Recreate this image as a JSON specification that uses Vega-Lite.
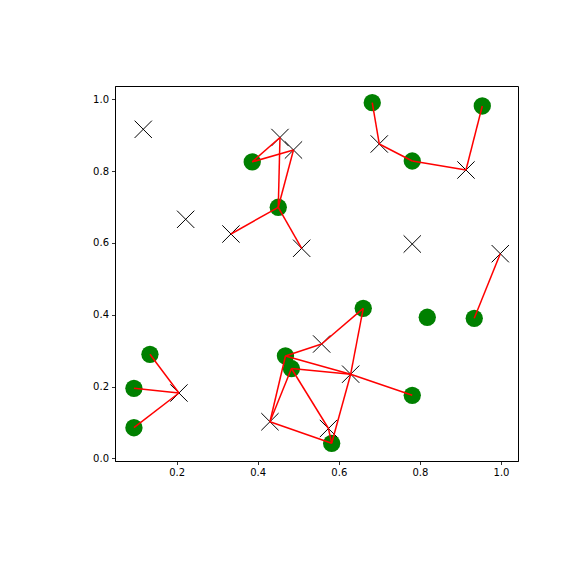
{
  "$schema": "https://vega.github.io/schema/vega-lite/v6.json",
  "width": 403,
  "height": 375,
  "autosize": {"type": "none"},
  "padding": {"left": 115, "top": 86, "right": 58, "bottom": 115},
  "background": "white",
  "config": {
    "view": {"stroke": "black", "strokeWidth": 1},
    "axis": {
      "grid": false,
      "domainColor": "black",
      "domainWidth": 1,
      "tickColor": "black",
      "tickSize": 3.5,
      "tickWidth": 0.8,
      "labelFont": "DejaVu Sans",
      "labelFontSize": 10,
      "labelColor": "black",
      "labelPadding": 3,
      "title": null
    }
  },
  "datasets": {
    "circles": [
      {"x": 0.3865, "y": 0.8256},
      {"x": 0.4507, "y": 0.6992},
      {"x": 0.6825, "y": 0.9905},
      {"x": 0.7812, "y": 0.8281},
      {"x": 0.9539, "y": 0.9813},
      {"x": 0.6603, "y": 0.4178},
      {"x": 0.8182, "y": 0.3928},
      {"x": 0.9341, "y": 0.3900},
      {"x": 0.1342, "y": 0.2897},
      {"x": 0.0947, "y": 0.1950},
      {"x": 0.0947, "y": 0.0852},
      {"x": 0.4684, "y": 0.2850},
      {"x": 0.4832, "y": 0.2501},
      {"x": 0.5824, "y": 0.0418},
      {"x": 0.7812, "y": 0.1755}
    ],
    "crosses": [
      {"x": 0.1177, "y": 0.9164},
      {"x": 0.4549, "y": 0.8936},
      {"x": 0.4882, "y": 0.8588},
      {"x": 0.2223, "y": 0.6657},
      {"x": 0.3340, "y": 0.6248},
      {"x": 0.5084, "y": 0.5850},
      {"x": 0.6998, "y": 0.8755},
      {"x": 0.9137, "y": 0.8031},
      {"x": 0.7812, "y": 0.5969},
      {"x": 0.9983, "y": 0.5699},
      {"x": 0.2057, "y": 0.1819},
      {"x": 0.5577, "y": 0.3184},
      {"x": 0.4302, "y": 0.1019},
      {"x": 0.5745, "y": 0.0830},
      {"x": 0.6293, "y": 0.2343}
    ],
    "links": [
      {"x": 0.3865, "y": 0.8256, "x2": 0.4549, "y2": 0.8936},
      {"x": 0.3865, "y": 0.8256, "x2": 0.4882, "y2": 0.8588},
      {"x": 0.4507, "y": 0.6992, "x2": 0.4549, "y2": 0.8936},
      {"x": 0.4507, "y": 0.6992, "x2": 0.4882, "y2": 0.8588},
      {"x": 0.4507, "y": 0.6992, "x2": 0.3340, "y2": 0.6248},
      {"x": 0.4507, "y": 0.6992, "x2": 0.5084, "y2": 0.5850},
      {"x": 0.6825, "y": 0.9905, "x2": 0.6998, "y2": 0.8755},
      {"x": 0.7812, "y": 0.8281, "x2": 0.6998, "y2": 0.8755},
      {"x": 0.7812, "y": 0.8281, "x2": 0.9137, "y2": 0.8031},
      {"x": 0.9539, "y": 0.9813, "x2": 0.9137, "y2": 0.8031},
      {"x": 0.9341, "y": 0.3900, "x2": 0.9983, "y2": 0.5699},
      {"x": 0.1342, "y": 0.2897, "x2": 0.2057, "y2": 0.1819},
      {"x": 0.0947, "y": 0.1950, "x2": 0.2057, "y2": 0.1819},
      {"x": 0.0947, "y": 0.0852, "x2": 0.2057, "y2": 0.1819},
      {"x": 0.4684, "y": 0.2850, "x2": 0.5577, "y2": 0.3184},
      {"x": 0.6603, "y": 0.4178, "x2": 0.5577, "y2": 0.3184},
      {"x": 0.4684, "y": 0.2850, "x2": 0.6293, "y2": 0.2343},
      {"x": 0.4832, "y": 0.2501, "x2": 0.6293, "y2": 0.2343},
      {"x": 0.4684, "y": 0.2850, "x2": 0.4302, "y2": 0.1019},
      {"x": 0.4832, "y": 0.2501, "x2": 0.4302, "y2": 0.1019},
      {"x": 0.4832, "y": 0.2501, "x2": 0.5745, "y2": 0.0830},
      {"x": 0.5824, "y": 0.0418, "x2": 0.5745, "y2": 0.0830},
      {"x": 0.5824, "y": 0.0418, "x2": 0.4302, "y2": 0.1019},
      {"x": 0.5824, "y": 0.0418, "x2": 0.6293, "y2": 0.2343},
      {"x": 0.6603, "y": 0.4178, "x2": 0.6293, "y2": 0.2343},
      {"x": 0.7812, "y": 0.1755, "x2": 0.6293, "y2": 0.2343}
    ]
  },
  "encoding": {
    "x": {
      "field": "x",
      "type": "quantitative",
      "scale": {"domain": [0.048, 1.042], "nice": false, "zero": false},
      "axis": {"values": [0.2, 0.4, 0.6, 0.8, 1.0], "format": ".1f"}
    },
    "y": {
      "field": "y",
      "type": "quantitative",
      "scale": {"domain": [-0.0075, 1.037], "nice": false, "zero": false},
      "axis": {"values": [0.0, 0.2, 0.4, 0.6, 0.8, 1.0], "format": ".1f"}
    }
  },
  "layer": [
    {
      "data": {"name": "circles"},
      "mark": {"type": "point", "shape": "circle", "filled": true, "color": "green", "opacity": 1, "size": 300, "strokeWidth": 0}
    },
    {
      "data": {"name": "crosses"},
      "mark": {"type": "point", "shape": "M -1 -1 L 1 1 M -1 1 L 1 -1", "filled": false, "color": "black", "opacity": 1, "size": 300, "strokeWidth": 1}
    },
    {
      "data": {"name": "links"},
      "mark": {"type": "rule", "color": "red", "strokeWidth": 1.5, "opacity": 1},
      "encoding": {
        "x2": {"field": "x2"},
        "y2": {"field": "y2"}
      }
    }
  ]
}
